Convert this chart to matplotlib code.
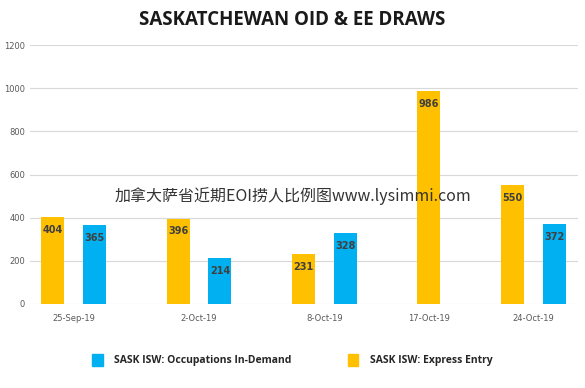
import matplotlib
matplotlib.use("Agg")
import matplotlib.pyplot as plt
from matplotlib.patches import Patch

# datos
fechas = ['25-Sep-19', '2-Oct-19', '8-Oct-19', '17-Oct-19', '24-Oct-19']
express_entry = [404, 396, 231, 986, 550]
occupations = [365, 214, 328, None, 372]   # el 17-Oct no hubo sorteo OID

color_ee = '#FFC000'
color_oid = '#00B0F0'

fig = plt.figure(figsize=(5.85, 3.88), dpi=100)
ax = fig.add_axes([0.051, 0.2165, 0.937, 0.6675])

# cada grupo ocupa tantos huecos como barras tenga, mas un hueco libre entre grupos
pos = 0
x_ee, x_oid, v_oid, centros = [], [], [], []
for i in range(len(fechas)):
    x_ee.append(pos)
    if occupations[i] is not None:
        x_oid.append(pos + 1)
        v_oid.append(occupations[i])
        centros.append(pos + 0.5)
        pos += 3
    else:
        centros.append(pos)
        pos += 2

ancho = 0.55
b1 = ax.bar(x_ee, express_entry, width=ancho, color=color_ee, zorder=3)
b2 = ax.bar(x_oid, v_oid, width=ancho, color=color_oid, zorder=3)

for barras, valores in [(b1, express_entry), (b2, v_oid)]:
    for b, v in zip(barras, valores):
        ax.text(b.get_x() + b.get_width() / 2, v - 60, str(v), ha='center', va='center',
                fontsize=7, fontweight='bold', color='#404040', zorder=4)

ax.set_ylim(0, 1200)
ax.set_xlim(-0.55, pos - 2 + 0.55 + 0.02)
ax.set_yticks(range(0, 1201, 200))
ax.set_xticks(centros)
ax.set_xticklabels(fechas)
ax.tick_params(axis='both', length=0, labelsize=6, labelcolor='#595959')
ax.tick_params(axis='x', pad=7)
ax.grid(axis='y', color='#D9D9D9', linewidth=0.8, zorder=0)
for s in ax.spines.values():
    s.set_visible(False)

fig.text(0.5, 0.948, 'SASKATCHEWAN OID & EE DRAWS', ha='center', va='center',
         fontsize=13.5, fontweight='bold', color='#1a1a1a', family='Open Sans')

# marca de agua
fig.text(0.5, 0.495, '加拿大萨省近期EOI捞人比例图www.lysimmi.com', ha='center', va='center',
         fontsize=11.5, color='#333333', family=['Noto Sans CJK SC', 'DejaVu Sans'], zorder=10)

handles = [Patch(color=color_oid, label='SASK ISW: Occupations In-Demand'),
           Patch(color=color_ee, label='SASK ISW: Express Entry')]
fig.legend(handles=handles, loc='center', bbox_to_anchor=(0.5, 0.072), ncol=2, frameon=False,
           prop={'size': 7.5, 'weight': 'bold', 'family': 'Open Sans'}, handlelength=1.0,
           handleheight=1.4, columnspacing=5.4, handletextpad=1.1, labelcolor='#262626')

fig.savefig('out.png', dpi=100)
